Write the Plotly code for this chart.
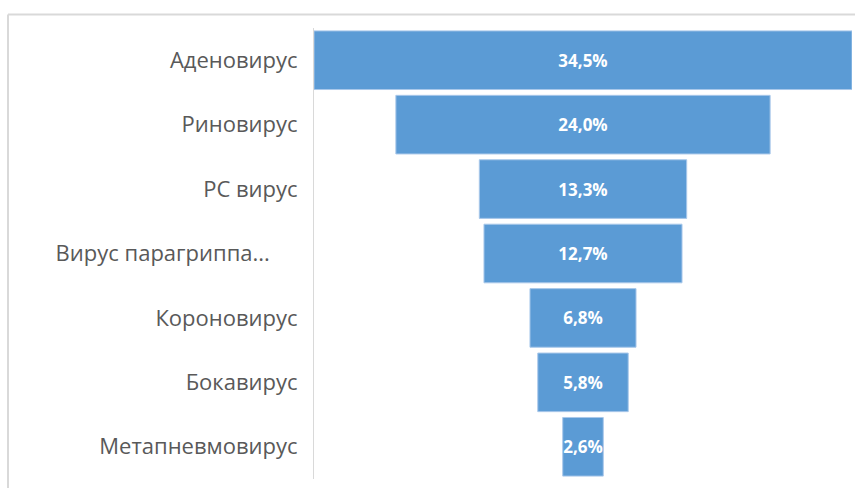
import plotly.graph_objects as go

categories = ["Аденовирус", "Риновирус", "РС вирус", "Вирус парагриппа...",
              "Короновирус", "Бокавирус", "Метапневмовирус"]
values = [34.5, 24.0, 13.3, 12.7, 6.8, 5.8, 2.6]
value_labels = [f"{v:.1f}%".replace(".", ",") for v in values]

# tick text (the truncated label in the original sits a bit left of the others)
tick_text = [c if c != "Вирус парагриппа..." else c + "\u2002\u2002\u00a0" for c in categories]

W, H = 855, 488
L, R, T, B = 314, 3, 28, 9
pw, ph = W - L - R, H - T - B

def px_x(p):
    return (p - L) / pw

def px_y(p):
    return (H - B - p) / ph

fig = go.Figure(go.Funnel(
    y=categories,
    x=values,
    orientation="h",
    text=value_labels,
    texttemplate="%{text}",
    textposition="inside",
    insidetextanchor="middle",
    constraintext="none",
    textfont=dict(family="Open Sans", size=17, color="white", weight="bold"),
    marker=dict(color="#5b9bd5", line=dict(color="#a9c8ea", width=1)),
    connector=dict(visible=False),
    hoverinfo="skip",
))

half = max(values) / 2
fig.update_layout(
    width=W, height=H,
    margin=dict(l=L, r=R, t=T, b=B, pad=0),
    paper_bgcolor="white", plot_bgcolor="white",
    showlegend=False,
    funnelgap=0.09,
    xaxis=dict(visible=False, range=[-half, half], fixedrange=True),
    yaxis=dict(
        type="category",
        categoryorder="array", categoryarray=categories,
        tickmode="array", tickvals=categories, ticktext=tick_text,
        autorange="reversed",
        showline=True, linecolor="#d9d9d9", linewidth=1,
        showgrid=False, zeroline=False,
        ticks="outside", ticklen=11, tickcolor="rgba(0,0,0,0)",
        tickfont=dict(family="Open Sans", size=22, color="#595959"),
    ),
    shapes=[
        dict(type="line", xref="paper", yref="paper",
             x0=px_x(8), x1=px_x(870), y0=px_y(14.5), y1=px_y(14.5),
             line=dict(color="#d9d9d9", width=2)),
        dict(type="line", xref="paper", yref="paper",
             x0=px_x(8), x1=px_x(8), y0=px_y(14.5), y1=px_y(500),
             line=dict(color="#d9d9d9", width=2)),
    ],
)

fig.write_html("out.html")
